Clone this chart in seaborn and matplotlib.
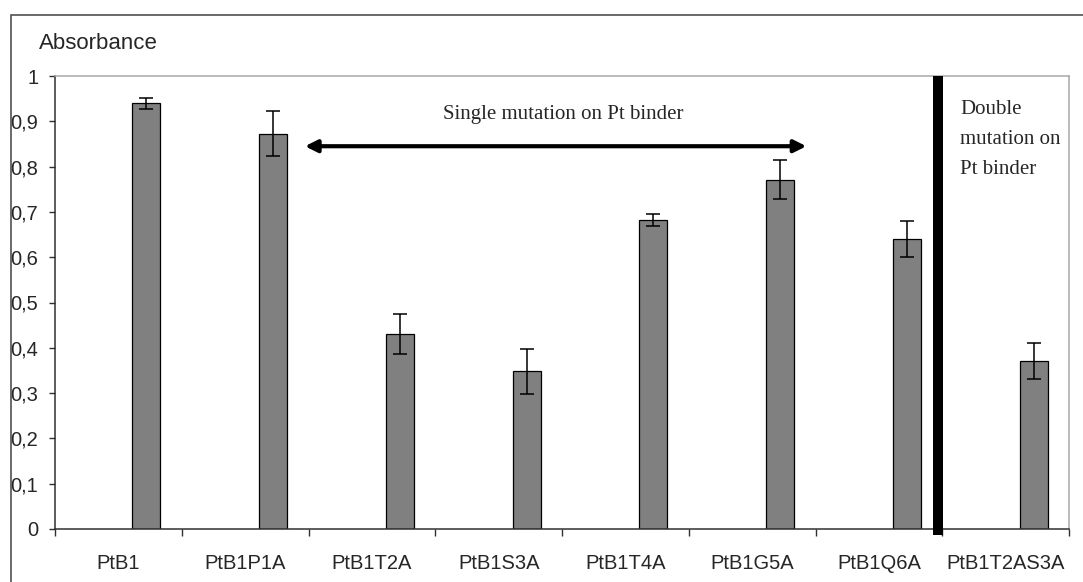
import numpy as np
import pandas as pd
import matplotlib
matplotlib.use("Agg")
import matplotlib.pyplot as plt
import seaborn as sns
from matplotlib.patches import Rectangle

samples = ["PtB1", "PtB1P1A", "PtB1T2A", "PtB1S3A", "PtB1T4A", "PtB1G5A", "PtB1Q6A", "PtB1T2AS3A"]
absorbance = [0.94, 0.873, 0.43, 0.348, 0.682, 0.771, 0.641, 0.371]
errors = [0.012, 0.049, 0.044, 0.05, 0.014, 0.043, 0.04, 0.04]
y_ticks = [0, 0.1, 0.2, 0.3, 0.4, 0.5, 0.6, 0.7, 0.8, 0.9, 1]
y_tick_labels = ["0", "0,1", "0,2", "0,3", "0,4", "0,5", "0,6", "0,7", "0,8", "0,9", "1"]

# excel-style layout: two empty series before the real one
series = ["s1", "s2", "s3"]
rows = []
for s in series:
    for name, val in zip(samples, absorbance):
        rows.append({"sample": name, "series": s, "value": val if s == "s3" else np.nan})
df = pd.DataFrame(rows)

sns.set_style("white")
plt.rcParams["font.family"] = ["Liberation Sans", "DejaVu Sans"]

fig = plt.figure(figsize=(10.83, 5.82), dpi=100)
ax = fig.add_axes([55 / 1083, 1 - 529 / 582, 1014 / 1083, 453 / 582])

sns.barplot(data=df, x="sample", y="value", hue="series", hue_order=series, order=samples,
            palette={"s1": "#808080", "s2": "#808080", "s3": "#808080"},
            width=0.664, errorbar=None, edgecolor="black", linewidth=0.9,
            legend=False, ax=ax)

bars = sorted([p for p in ax.patches if p.get_height() > 0], key=lambda p: p.get_x())
xs = [p.get_x() + p.get_width() / 2 for p in bars]
ax.errorbar(xs, absorbance, yerr=errors, fmt="none", ecolor="black", elinewidth=1.1,
            capsize=4.7, capthick=1.1, zorder=5)

ax.set_xlim(-0.5, 7.5)
ax.set_ylim(0, 1)
ax.set_xticks(np.arange(-0.5, 8, 1))
ax.set_xticklabels([])
ax.set_xticks(range(len(samples)), minor=True)
ax.set_xticklabels(samples, minor=True, fontsize=14.5)
ax.tick_params(axis="x", which="major", direction="out", length=5, width=1,
               color="#303030", bottom=True)
ax.tick_params(axis="x", which="minor", length=0, pad=18, bottom=True)
ax.set_yticks(y_ticks)
ax.set_yticklabels(y_tick_labels, fontsize=14.5)
ax.tick_params(axis="y", direction="out", length=4, width=1, pad=8, color="#303030", left=True)
ax.set_xlabel("")
ax.set_ylabel("")

for side in ["left", "bottom"]:
    ax.spines[side].set_color("#303030")
    ax.spines[side].set_linewidth(1.1)
for side in ["top", "right"]:
    ax.spines[side].set_color("#a8a8a8")
    ax.spines[side].set_linewidth(1.1)

# separator between single and double mutants
ax.plot([6.466, 6.466], [-0.013, 1.0], color="black", lw=7.2, solid_capstyle="butt",
        clip_on=False, zorder=6)

ax.annotate("", xy=(1.45, 0.845), xytext=(5.45, 0.845),
            arrowprops=dict(arrowstyle="<|-|>", color="black", lw=3, mutation_scale=18))
ax.text(3.51, 0.915, "Single mutation on Pt binder", ha="center", va="center",
        fontsize=15, family="Liberation Serif")
ax.text(6.64, 0.948, "Double\nmutation on\nPt binder", ha="left", va="top",
        fontsize=15, family="Liberation Serif", linespacing=1.8)

fig.text(39 / 1083, 1 - 49 / 582, "Absorbance", ha="left", va="baseline", fontsize=16)

fig.patches.append(Rectangle((11 / 1083, -0.05), 1.2, 1 - 15 / 582 + 0.05,
                             transform=fig.transFigure, fill=False,
                             edgecolor="#505050", linewidth=1.2))

plt.savefig("out.png", dpi=100)
